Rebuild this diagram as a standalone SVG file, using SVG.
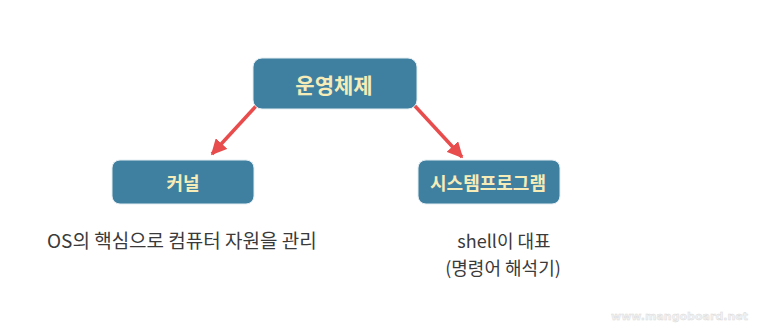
<svg xmlns="http://www.w3.org/2000/svg" width="762" height="330" viewBox="0 0 762 330">
<defs>
<style>
.box{fill:#3f80a1;stroke:#e3edf2;stroke-width:1}
.t{font-family:"Noto Sans CJK KR","Noto Sans",sans-serif;font-weight:bold;fill:#f6ecb8;text-anchor:middle;dominant-baseline:central}
.d{font-family:"Noto Sans CJK KR","Noto Sans",sans-serif;fill:#3a3a3a}
.c{stroke:#e84c4c;stroke-width:3.5;fill:none}
</style>
<marker id="ah" viewBox="0 0 10 10" refX="9" refY="5" markerWidth="4.5" markerHeight="4.5" orient="auto" markerUnits="strokeWidth">
<path d="M0,0 L10,5 L0,10 z" fill="#e84c4c"/>
</marker>
</defs>
<rect width="762" height="330" fill="#fff"/>
<g id="connectors">
<line class="c" x1="257" y1="105" x2="212" y2="154" marker-end="url(#ah)"/>
<line class="c" x1="414" y1="105" x2="462" y2="157" marker-end="url(#ah)"/>
</g>
<g id="n-os">
<rect class="box" x="253" y="58" width="164" height="51" rx="9"/>
<text class="t" x="334" y="84" font-size="21">운영체제</text>
</g>
<g id="n-kernel">
<rect class="box" x="112" y="160" width="142" height="44" rx="8"/>
<text class="t" x="183" y="182" font-size="18">커널</text>
</g>
<g id="n-sys">
<rect class="box" x="418" y="160" width="142" height="44" rx="8"/>
<text class="t" x="488" y="182" font-size="18">시스템프로그램</text>
</g>
<g id="descs">
<text class="d" x="47" y="248" font-size="19">OS의 핵심으로 컴퓨터 자원을 관리</text>
<text class="d" x="504" y="248" font-size="18" text-anchor="middle">shell이 대표</text>
<text class="d" x="503" y="275" font-size="18" text-anchor="middle">(명령어 해석기)</text>
</g>
<text x="748" y="320" text-anchor="end" font-family="Verdana,'DejaVu Sans',sans-serif" font-size="11" font-weight="bold" fill="#f2f2f2" stroke="#d8d8d8" stroke-width="0.4">www.mangoboard.net</text>
</svg>
